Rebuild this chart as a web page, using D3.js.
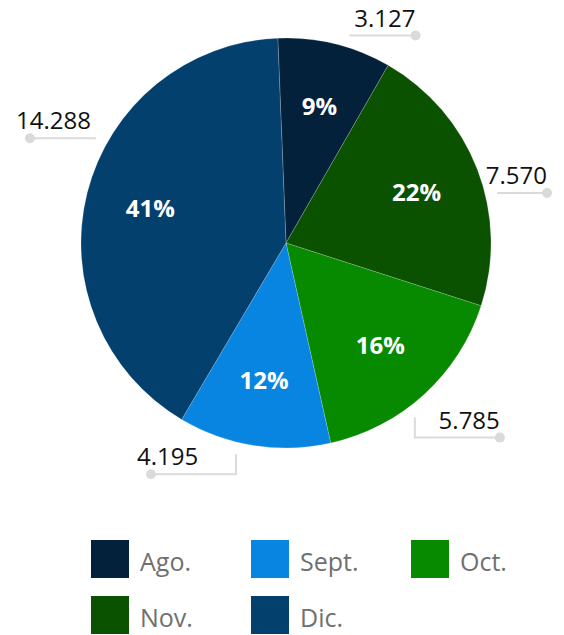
<!DOCTYPE html>
<meta charset="utf-8">
<style>
  body { margin: 0; background: #fff; }
  .pct { font: bold 24px "Open Sans", sans-serif; fill: #fff; text-anchor: middle; }
  .val { font: 24px "Open Sans", sans-serif; fill: #111; }
  .leg { font: 25px "Open Sans", sans-serif; fill: #707070; }
  .conn { fill: none; stroke: #dadada; stroke-width: 2px; }
</style>
<body>
<script src="https://cdn.jsdelivr.net/npm/d3@7"></script>
<script>

// data, in drawing order (clockwise from the top)
var months = ["Ago.", "Nov.", "Oct.", "Sept.", "Dic."];
var values = [3127, 7570, 5785, 4195, 14288];
var colors = ["#03213a", "#0a5200", "#088a00", "#0785e0", "#04406e"];

// legend order
var legendOrder = ["Ago.", "Sept.", "Oct.", "Nov.", "Dic."];

var width = 564, height = 635;
var cx = 286, cy = 243, radius = 205;

var svg = d3.select("body").append("svg")
    .attr("width", width)
    .attr("height", height);

var es = d3.formatLocale({ decimal: ",", thousands: ".", grouping: [3], currency: ["", " €"] });
var fmt = es.format(",d");

var total = d3.sum(values);
var data = months.map(function(m, i) { return { month: m, value: values[i], color: colors[i] }; });

// whole percentages that add up to 100 (largest remainder)
var raw = values.map(function(v) { return v / total * 100; });
var pcts = raw.map(Math.floor);
var left = 100 - d3.sum(pcts);
d3.range(values.length)
  .sort(function(a, b) { return (raw[b] - pcts[b]) - (raw[a] - pcts[a]); })
  .slice(0, left)
  .forEach(function(i) { pcts[i] += 1; });
data.forEach(function(d, i) { d.pct = pcts[i]; });

var pie = d3.pie()
    .sort(null)
    .startAngle(-0.04)
    .endAngle(2 * Math.PI - 0.04)
    .value(function(d) { return d.value; });

var arc = d3.arc().innerRadius(0).outerRadius(radius);
var labelArc = d3.arc().innerRadius(140).outerRadius(140);

var g = svg.append("g").attr("transform", "translate(" + cx + "," + cy + ")");

var arcs = pie(data);

g.selectAll("path.slice")
    .data(arcs)
  .enter().append("path")
    .attr("class", "slice")
    .attr("d", arc)
    .attr("fill", function(d) { return d.data.color; })
    .attr("stroke", "#fff")
    .attr("stroke-opacity", 0.3)
    .attr("stroke-width", 0.6);

// percentages inside
g.selectAll("text.pct")
    .data(arcs)
  .enter().append("text")
    .attr("class", "pct")
    .attr("x", function(d) { return labelArc.centroid(d)[0]; })
    .attr("y", function(d) { return labelArc.centroid(d)[1] + 8; })
    .text(function(d) { return d.data.pct + "%"; });

// outside value labels with connectors
var outR = radius + 12;
var minX = 20 - cx, maxX = width - 17 - cx;
arcs.forEach(function(d) {
  var a = d.startAngle + 0.6 * (d.endAngle - d.startAngle);
  var px = outR * Math.sin(a), py = -outR * Math.cos(a);
  var right = Math.sin(a) > 0;
  var lower = Math.cos(a) < -0.5;
  var dir = right ? 1 : -1;
  var pts, dot;
  if (lower) {
    var ey = py + 20;
    dot = [Math.max(minX, Math.min(maxX, px + dir * 85)), ey];
    pts = [[px, py], [px, ey], dot];
  } else {
    dot = [Math.max(minX, Math.min(maxX, px + dir * 66)), py];
    pts = [[px, py], dot];
  }
  g.append("path")
    .attr("class", "conn")
    .attr("d", d3.line()(pts));
  g.append("circle")
    .attr("cx", dot[0]).attr("cy", dot[1])
    .attr("r", 5).attr("fill", "#dadada");
  g.append("text")
    .attr("class", "val")
    .attr("x", right ? dot[0] : dot[0] - 14)
    .attr("y", dot[1] - 9)
    .attr("text-anchor", right ? "end" : "start")
    .text(fmt(d.value));
});

// legend
var legend = svg.append("g").attr("transform", "translate(91,540)");
var item = legend.selectAll("g.item")
    .data(legendOrder)
  .enter().append("g")
    .attr("class", "item")
    .attr("transform", function(d, i) { return "translate(" + (i % 3) * 160 + "," + Math.floor(i / 3) * 56 + ")"; });

item.append("rect")
    .attr("width", 38).attr("height", 38)
    .attr("fill", function(d) { return colors[months.indexOf(d)]; });

item.append("text")
    .attr("class", "leg")
    .attr("x", 49).attr("y", 31)
    .text(function(d) { return d; });

</script>
</body>
